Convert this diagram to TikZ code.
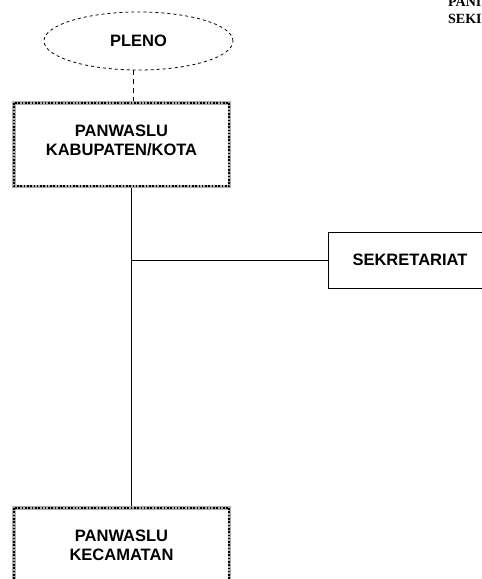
\documentclass[tikz,border=0pt]{standalone}
\usepackage{fontspec}
\setmainfont{Liberation Sans}
\newfontfamily\judulfont{Liberation Serif}
\usetikzlibrary{shapes.geometric, positioning}

\tikzset{
  kotak/.style={rectangle, draw=gray!65, line width=3.5pt,
    minimum width=215.5pt, minimum height=83.5pt, inner sep=0pt, align=center,
    text depth=9pt, font=\bfseries\fontsize{16.5}{19.5}\selectfont,
    postaction={draw=black, line width=1.6pt, dash pattern=on 1.6pt off 1.7pt}},
  sekbox/.style={rectangle, draw, line width=0.8pt, minimum width=164pt,
    minimum height=56pt, font=\bfseries\fontsize{16.5}{19.5}\selectfont},
  rapat/.style={ellipse, draw, dashed, line width=0.8pt, minimum width=189pt,
    minimum height=58pt, inner sep=0pt, font=\bfseries\fontsize{16.5}{19.5}\selectfont},
  garis/.style={line width=0.8pt}
}

\begin{document}
\begin{tikzpicture}[x=1pt,y=-1pt]
  \useasboundingbox (0,0) rectangle (482,579);
  % judul di pojok kanan atas
  \node[anchor=base west, inner sep=0pt, font=\judulfont\bfseries\fontsize{14}{18}\selectfont] (judA) at (448,6) {PANI};
  \node[anchor=base west, inner sep=0pt, font=\judulfont\bfseries\fontsize{14}{18}\selectfont] (judB) at (448,23) {SEKI};

  \node[kotak] (kab) at (121.5,144.5) {PANWASLU\\KABUPATEN/KOTA};
  \node[kotak] (kec) at (121.5,549.5) {PANWASLU\\KECAMATAN};
  \node[rapat] (pleno) at (138.5,41) {PLENO};
  \node[sekbox] (sek) at (410,260) {SEKRETARIAT};

  \draw[garis, dash pattern=on 5pt off 4pt] ([xshift=-5.5pt]pleno.south) -- ([xshift=11.5pt]kab.north);
  \draw[garis] ([xshift=9.5pt]kab.south) -- ([xshift=9.5pt]kec.north);
  \draw[garis] ([xshift=9.5pt]kab.south |- sek.west) -- (sek.west);
\end{tikzpicture}
\end{document}
